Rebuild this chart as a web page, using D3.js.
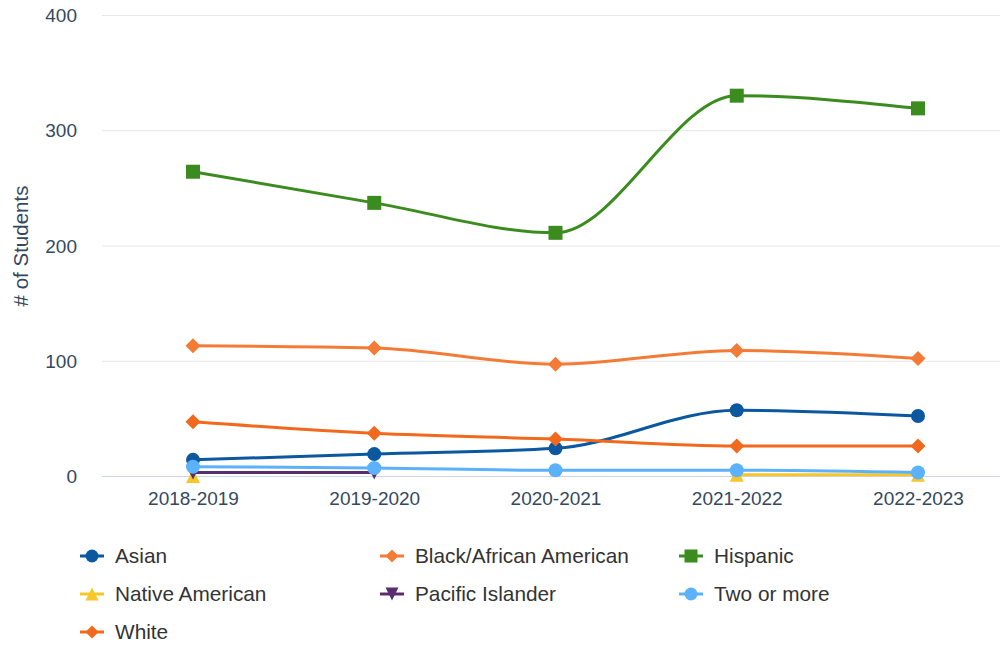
<!DOCTYPE html>
<html>
<head>
<meta charset="utf-8">
<script src="https://cdn.jsdelivr.net/npm/d3@7"></script>
<style>
  html, body { margin: 0; padding: 0; background: #fff; }
  svg { display: block; font-family: "Liberation Sans", Arial, sans-serif; }
</style>
</head>
<body>
<svg id="chart" width="1000" height="646"></svg>
<script>
// School years on the x axis
const years = ["2018-2019", "2019-2020", "2020-2021", "2021-2022", "2022-2023"];
const yTicks = [0, 100, 200, 300, 400];

// Enrollment counts per group (null = no data that year)
const asian = [14, 19, 24, 57, 52];
const black = [113, 111, 97, 109, 102];
const hispanic = [264, 237, 211, 330, 319];
const nativeAmerican = [0, null, null, 1, 1];
const pacificIslander = [3, 3, null, null, null];
const twoOrMore = [8, 7, 5, 5, 3];
const white = [47, 37, 32, 26, 26];

const series = [
  { name: "Asian", values: asian, color: "#0b57a0", symbol: "circle" },
  { name: "Black/African American", values: black, color: "#f47b35", symbol: "diamond" },
  { name: "Hispanic", values: hispanic, color: "#3b8c1e", symbol: "square" },
  { name: "Native American", values: nativeAmerican, color: "#f7c72a", symbol: "triangle" },
  { name: "Pacific Islander", values: pacificIslander, color: "#5a2d6e", symbol: "triangle-down" },
  { name: "Two or more", values: twoOrMore, color: "#5cb1fb", symbol: "circle" },
  { name: "White", values: white, color: "#f2691e", symbol: "diamond" }
];

const svg = d3.select("#chart");
const textColor = "#34495e";
const plotLeft = 102, plotRight = 1000;

const x = d3.scalePoint().domain(years).range([193, 918]);
const y = d3.scaleLinear().domain([0, 400]).range([476, 15]);

// Horizontal grid lines
svg.append("g").selectAll("line")
  .data(yTicks.filter(d => d !== 0))
  .join("line")
  .attr("x1", plotLeft).attr("x2", plotRight)
  .attr("y1", d => y(d) + 0.5).attr("y2", d => y(d) + 0.5)
  .attr("stroke", "#e6e6e6").attr("stroke-width", 1);

// Baseline
svg.append("line")
  .attr("x1", plotLeft).attr("x2", plotRight)
  .attr("y1", y(0) + 0.5).attr("y2", y(0) + 0.5)
  .attr("stroke", "#ccd6eb").attr("stroke-width", 1);

// Y axis labels
const yAxis = d3.axisLeft(y).tickValues(yTicks).tickSize(0).tickPadding(0);
const yG = svg.append("g").attr("transform", "translate(77,0)").call(yAxis);
yG.select(".domain").remove();
yG.selectAll("text")
  .attr("fill", textColor).style("font-size", "19px")
  .attr("dy", "0.35em");

// X axis labels
const xAxis = d3.axisBottom(x).tickSize(0).tickPadding(0);
const xG = svg.append("g").attr("transform", "translate(0,491)").call(xAxis);
xG.select(".domain").remove();
xG.selectAll("text")
  .attr("fill", textColor).style("font-size", "19px").attr("dy", "0.71em");

// Y axis title
svg.append("text")
  .attr("transform", "translate(28,246) rotate(-90)")
  .attr("text-anchor", "middle")
  .attr("fill", textColor)
  .style("font-size", "20.5px")
  .text("# of Students");

const symbolPath = (type, size) => {
  const s = size;
  switch (type) {
    case "circle": return d3.symbol(d3.symbolCircle, Math.PI * s * s)();
    case "square": return `M${-s},${-s}H${s}V${s}H${-s}Z`;
    case "diamond": return `M0,${-s}L${s},0L0,${s}L${-s},0Z`;
    case "triangle": return `M0,${-s}L${s},${s}H${-s}Z`;
    case "triangle-down": return `M${-s},${-s}H${s}L0,${s}Z`;
  }
};

const line = d3.line()
  .defined(d => d.v !== null)
  .x(d => x(d.year))
  .y(d => y(d.v))
  .curve(d3.curveMonotoneX);

const plot = svg.append("g");
series.forEach(s => {
  const pts = years.map((yr, i) => ({ year: yr, v: s.values[i] }));
  const g = plot.append("g");
  g.append("path")
    .attr("d", line(pts))
    .attr("fill", "none")
    .attr("stroke", s.color)
    .attr("stroke-width", 3)
    .attr("stroke-linejoin", "round")
    .attr("stroke-linecap", "round");
  g.selectAll("path.marker")
    .data(pts.filter(d => d.v !== null))
    .join("path")
    .attr("class", "marker")
    .attr("transform", d => `translate(${x(d.year)},${y(d.v)})`)
    .attr("d", symbolPath(s.symbol, s.symbol === "diamond" ? 7.5 : 7))
    .attr("fill", s.color);
});

// Legend, three columns
const legendCols = [80, 380, 679];
const legendRows = [556, 594, 632];
const legend = svg.append("g");
series.forEach((s, i) => {
  const cx = legendCols[i % 3];
  const cy = legendRows[Math.floor(i / 3)];
  const g = legend.append("g").attr("transform", `translate(${cx},${cy})`);
  g.append("line")
    .attr("x1", 0).attr("x2", 24).attr("y1", 0).attr("y2", 0)
    .attr("stroke", s.color).attr("stroke-width", 3);
  g.append("path")
    .attr("transform", "translate(12,0)")
    .attr("d", symbolPath(s.symbol, 6.5))
    .attr("fill", s.color);
  g.append("text")
    .attr("x", 35).attr("y", 0).attr("dy", "0.35em")
    .attr("fill", "#333333")
    .style("font-size", "20.8px")
    .text(s.name);
});
</script>
</body>
</html>
